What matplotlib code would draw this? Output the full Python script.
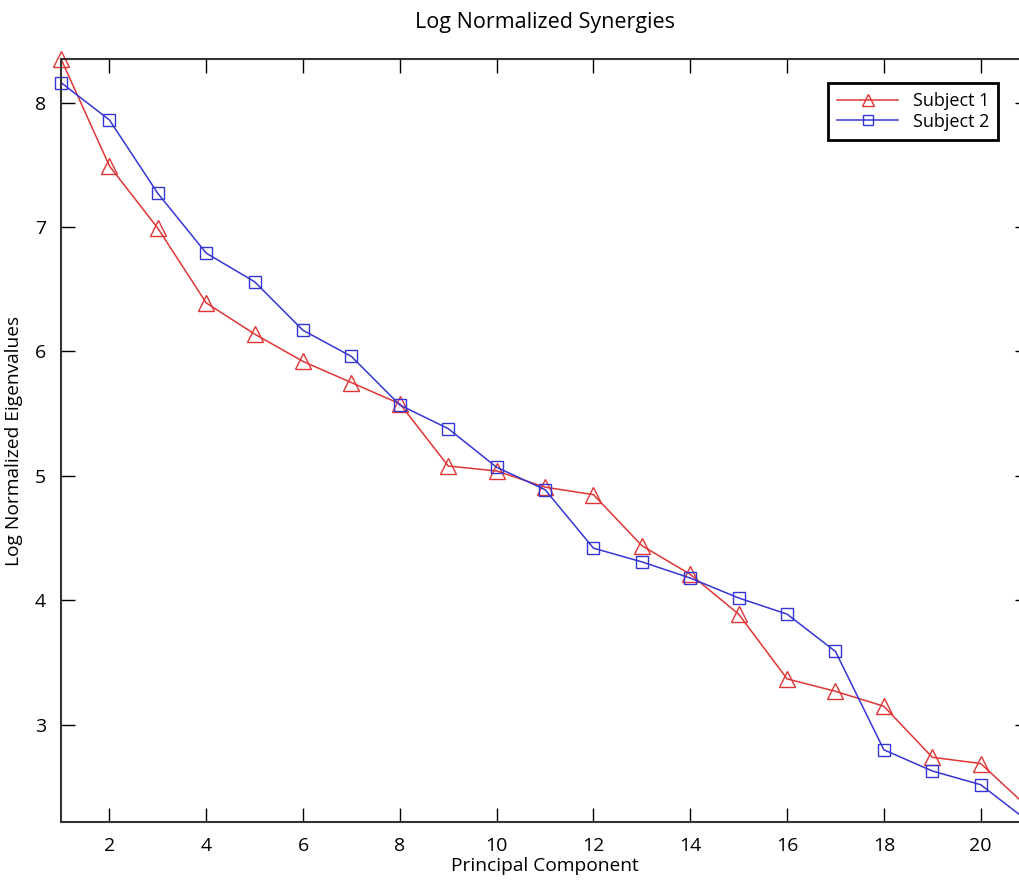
# log normalized synergies chart, two subjects
import matplotlib
matplotlib.use("Agg")
import matplotlib.pyplot as plt

plt.rcParams["font.family"] = ["Open Sans", "DejaVu Sans"]

# data
components = list(range(1, 22))
subject1 = [8.35, 7.49, 6.99, 6.39, 6.14, 5.92, 5.75, 5.58, 5.08, 5.04, 4.91,
            4.85, 4.44, 4.21, 3.89, 3.37, 3.27, 3.15, 2.74, 2.69, 2.33]
subject2 = [8.16, 7.86, 7.27, 6.79, 6.56, 6.17, 5.96, 5.57, 5.38, 5.07, 4.89,
            4.42, 4.31, 4.18, 4.02, 3.89, 3.59, 2.80, 2.63, 2.52, 2.22]
xticks = [2, 4, 6, 8, 10, 12, 14, 16, 18, 20]
yticks = [3, 4, 5, 6, 7, 8]

fig = plt.figure(figsize=(10.19, 8.84), dpi=100)
ax = fig.add_axes([0.0599, 0.0701, 0.95, 0.8632])

ax.plot(components, subject1, color="#e03535", marker="^", markersize=11,
        markerfacecolor="none", linewidth=1.1, label="Subject 1", clip_on=False)
ax.plot(components, subject2, color="#3535d5", marker="s", markersize=9,
        markerfacecolor="none", linewidth=1.1, label="Subject 2", clip_on=False)

ax.set_xlim(1, 21)
ax.set_ylim(2.22, 8.35)
ax.set_xticks(xticks)
ax.set_yticks(yticks)
ax.tick_params(direction="in", length=10, width=1, top=True, right=True,
               labelsize=14, pad=11)
for s in ax.spines.values():
    s.set_linewidth(1.5)
    s.set_color("#333333")

ax.set_title("Log Normalized Synergies", fontsize=15.5, pad=22)
ax.set_xlabel("Principal Component", fontsize=13.8, labelpad=1)
ax.set_ylabel("Log Normalized Eigenvalues", fontsize=13.8, labelpad=8)

leg = ax.legend(loc="upper right", bbox_to_anchor=(0.968, 0.9686), fontsize=13,
                fancybox=False, framealpha=1, borderpad=0.5, handlelength=3.4,
                labelspacing=0.15, borderaxespad=0, markerscale=0.8)
leg.get_frame().set_edgecolor("black")
leg.get_frame().set_linewidth(2)

plt.savefig("out.png", dpi=100)
